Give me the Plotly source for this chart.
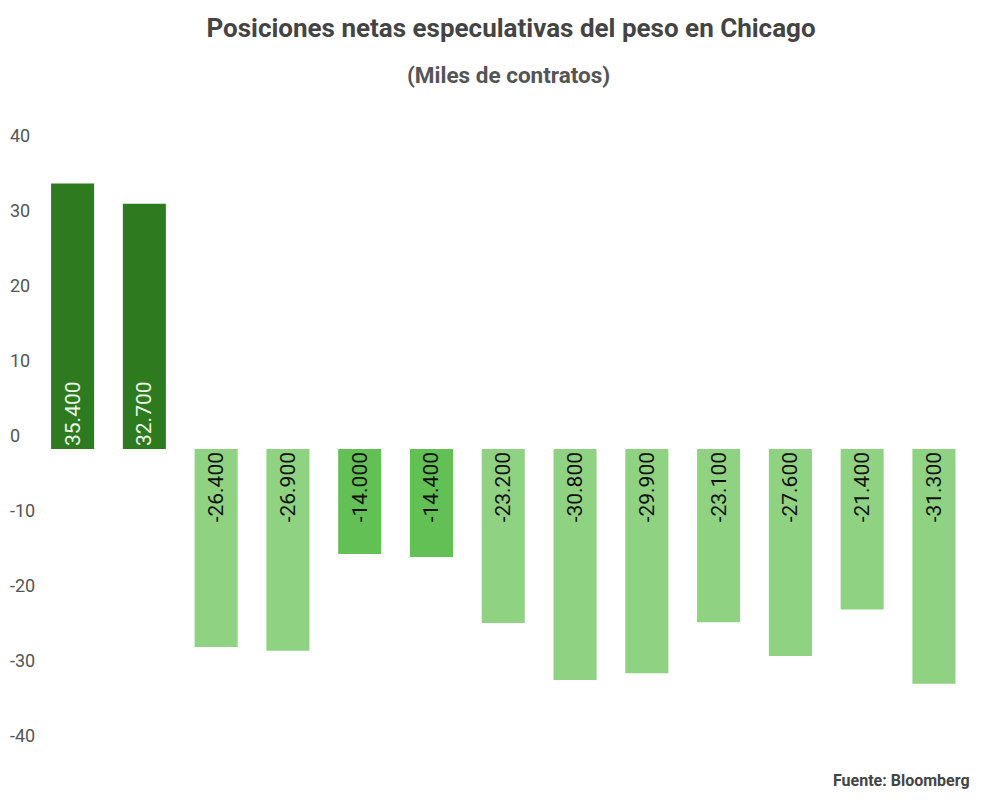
import plotly.graph_objects as go

semanas = ["s1", "s2", "s3", "s4", "s5", "s6", "s7", "s8", "s9", "s10", "s11", "s12", "s13"]
posiciones = [35.4, 32.7, -26.4, -26.9, -14.0, -14.4, -23.2, -30.8, -29.9, -23.1, -27.6, -21.4, -31.3]
tick_vals = [40, 30, 20, 10, 0, -10, -20, -30, -40]

# colores segun el signo / tamano de la posicion
colores = []
texto_color = []
for v in posiciones:
    if v > 0:
        colores.append("#2e7b1f")
        texto_color.append("#eef7e8")
    elif v > -20:
        colores.append("#62c055")
        texto_color.append("#111111")
    else:
        colores.append("#8fd282")
        texto_color.append("#111111")

fig = go.Figure()
fig.add_trace(go.Bar(
    x=list(range(len(semanas))), y=posiciones,
    marker=dict(color=colores, line=dict(width=0)),
    texttemplate="%{y:.3f}",
    textposition="inside",
    insidetextanchor="start",
    textangle=-90,
    textfont=dict(family="Roboto", size=21, color=texto_color),
    hoverinfo="skip",
))

fig.update_layout(
    width=1000, height=807,
    paper_bgcolor="white", plot_bgcolor="white",
    margin=dict(l=0, r=31, t=96, b=51),
    bargap=0.4,
    showlegend=False,
    font=dict(family="Roboto", color="#444444"),
    title=dict(
        text="<b>Posiciones netas especulativas del peso en Chicago</b>",
        x=0.503, xanchor="center", y=0.975, yanchor="middle",
        font=dict(size=26, color="#444444"),
    ),
)

fig.add_annotation(
    text="<b>(Miles de contratos)</b>", xref="paper", yref="paper",
    x=0.517, y=1.0, yshift=29, xanchor="center", yanchor="middle",
    showarrow=False, font=dict(size=22.5, color="#555555"),
)
fig.add_annotation(
    text="<b>Fuente: Bloomberg</b>", xref="paper", yref="paper",
    x=1.0, y=0, yshift=-16, xshift=-5, xanchor="right", yanchor="middle",
    showarrow=False, font=dict(size=16, color="#444444"),
)

# etiquetas del eje, un poco por encima de cada valor
for t in tick_vals:
    fig.add_annotation(
        text=str(t), xref="paper", yref="y", x=0, y=t,
        xanchor="left", yanchor="middle", yshift=14, xshift=0,
        showarrow=False, font=dict(size=18, color="#555555"),
    )

fig.update_xaxes(range=[-0.9, 12.6], showticklabels=False, showgrid=False,
                 zeroline=False, showline=False)
fig.update_yaxes(range=[-42, 46], showticklabels=False, showgrid=False,
                 zeroline=False, ticks="")

fig.write_html("out.html")
